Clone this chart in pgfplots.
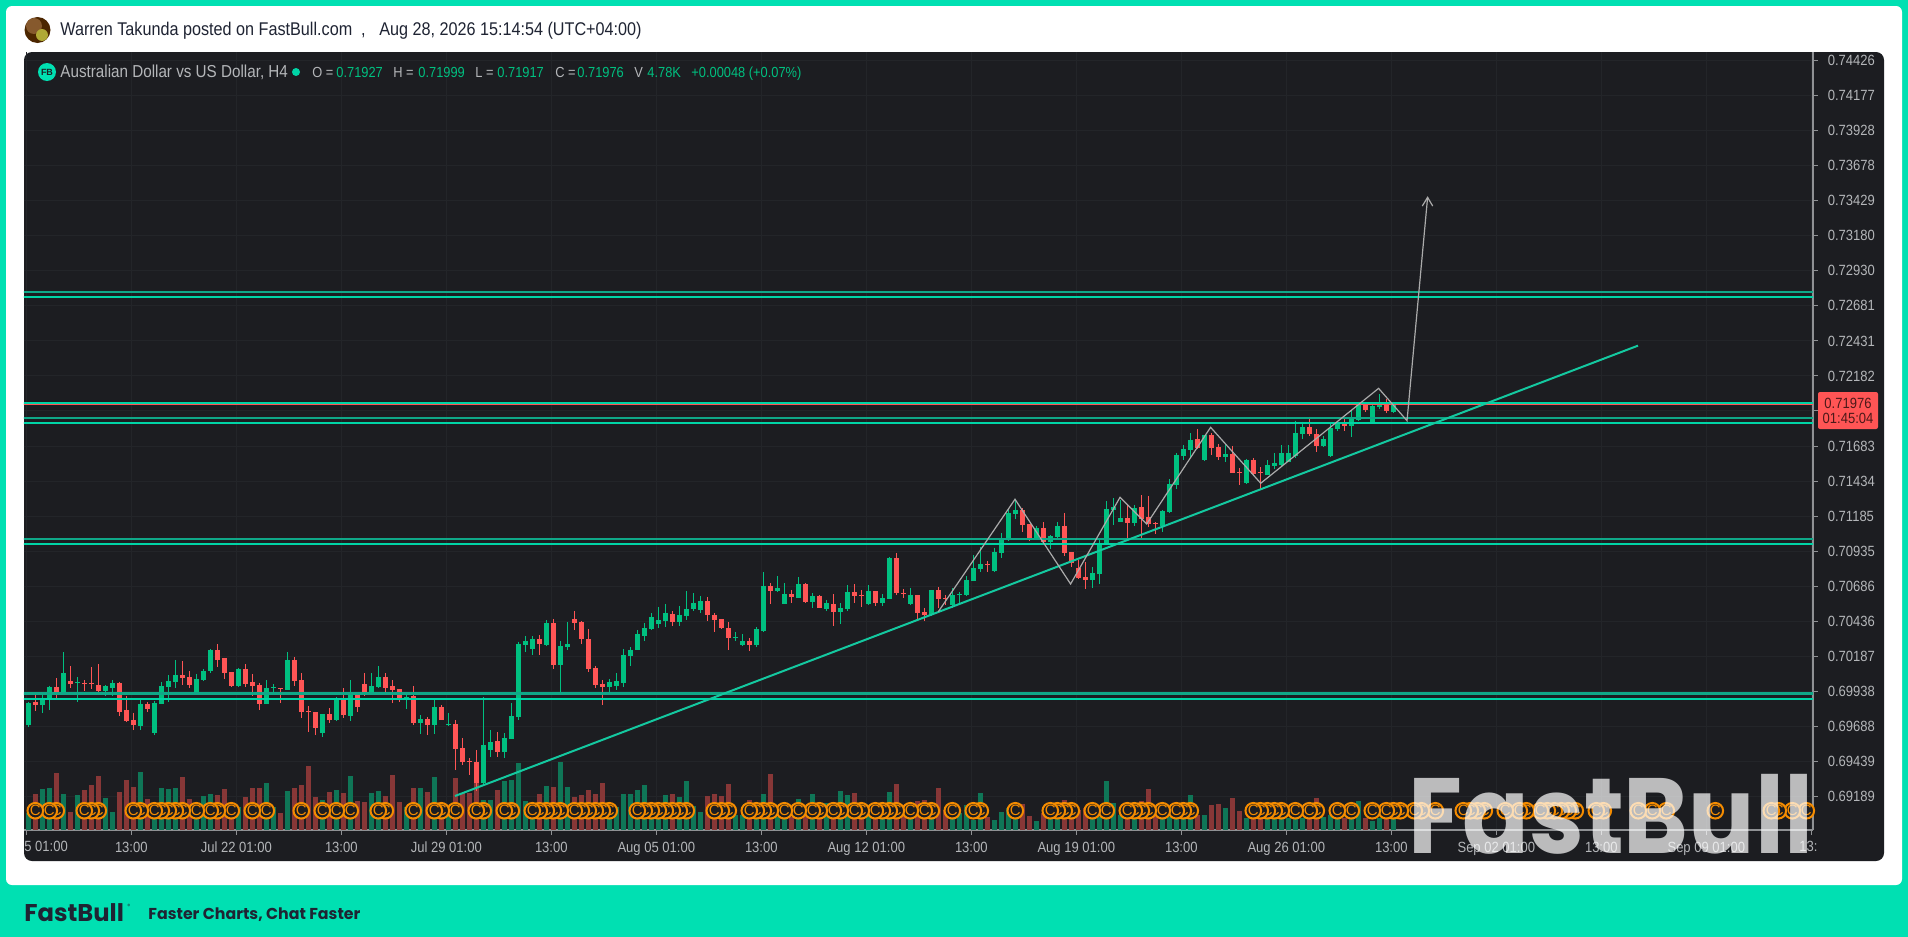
\documentclass[border=0pt]{standalone}
\usepackage{pgfplots}
\usepackage{pgfplotstable}
\usepackage{fontspec}
\pgfplotsset{compat=1.18}
\setmainfont{Liberation Sans}
\newfontfamily\nf[FakeStretch=0.88]{Liberation Sans}
\newfontfamily\pop{Poppins}
\newfontfamily\popw[FakeStretch=0.92]{Poppins}
\definecolor{teal0}{HTML}{00E0B2}
\definecolor{panel}{HTML}{1C1D21}
\definecolor{gridc}{HTML}{232529}
\definecolor{axc}{HTML}{8F9194}
\definecolor{lab}{HTML}{B4B6B9}
\definecolor{cg}{HTML}{00C080}
\definecolor{cr}{HTML}{FF5555}
\definecolor{vg}{HTML}{0F7657}
\definecolor{vr}{HTML}{873737}
\definecolor{iconor}{HTML}{F58C00}
\definecolor{lnA}{HTML}{0FA888}
\definecolor{lnB}{HTML}{00D4A6}
\definecolor{trend}{HTML}{14C9A0}
\definecolor{zig}{HTML}{ABABAB}
\definecolor{ink}{HTML}{1F2433}
\pgfdeclareplotmark{cicon}{%
  \pgfpathcircle{\pgfpointorigin}{3.9pt}\pgfusepathqfillstroke
  \pgftext{\color{iconor}\fontsize{7.5}{8}\selectfont C}}
\pgfplotstableread{
i hi lo top bot
0 0.69865 0.69687 0.69853 0.69699
2 0.69913 0.69782 0.69884 0.69842
3 0.69979 0.69806 0.69970 0.69884
5 0.70216 0.69934 0.70069 0.69934
7 0.70038 0.69863 0.70005 0.69998
11 0.69984 0.69908 0.69977 0.69941
12 0.70017 0.69906 0.69998 0.69962
16 0.69877 0.69664 0.69849 0.69692
18 0.69870 0.69628 0.69856 0.69642
19 0.70003 0.69849 0.69977 0.69849
20 0.70053 0.69863 0.70012 0.69970
21 0.70159 0.69962 0.70055 0.70005
24 0.70062 0.69920 0.70027 0.69920
25 0.70098 0.70012 0.70083 0.70019
26 0.70238 0.70069 0.70233 0.70083
30 0.70102 0.69970 0.70098 0.69977
34 0.70017 0.69849 0.69962 0.69849
35 0.69989 0.69927 0.69970 0.69962
37 0.70216 0.69948 0.70162 0.69948
42 0.69778 0.69614 0.69778 0.69642
44 0.69898 0.69728 0.69884 0.69735
46 0.70019 0.69728 0.69913 0.69763
49 0.70069 0.69927 0.69977 0.69934
50 0.70117 0.69962 0.70041 0.69970
54 0.69913 0.69813 0.69898 0.69884
56 0.69770 0.69635 0.69742 0.69713
58 0.69877 0.69635 0.69827 0.69699
60 0.69785 0.69692 0.69706 0.69697
65 0.69898 0.69272 0.69557 0.69287
66 0.69664 0.69472 0.69578 0.69521
68 0.69640 0.69464 0.69607 0.69507
69 0.69853 0.69600 0.69763 0.69600
70 0.70292 0.69735 0.70276 0.69756
71 0.70332 0.70219 0.70297 0.70268
72 0.70332 0.70197 0.70311 0.70240
74 0.70446 0.70261 0.70425 0.70268
76 0.70297 0.69927 0.70261 0.70126
77 0.70432 0.70233 0.70276 0.70254
83 0.70027 0.69927 0.70005 0.69970
84 0.70069 0.69948 0.70012 0.69977
85 0.70240 0.69970 0.70197 0.69998
86 0.70254 0.70119 0.70233 0.70190
87 0.70375 0.70233 0.70347 0.70233
88 0.70425 0.70297 0.70389 0.70332
89 0.70494 0.70375 0.70468 0.70382
90 0.70539 0.70389 0.70446 0.70418
91 0.70560 0.70396 0.70496 0.70439
93 0.70546 0.70404 0.70482 0.70432
94 0.70653 0.70446 0.70525 0.70475
95 0.70638 0.70510 0.70567 0.70525
96 0.70617 0.70496 0.70581 0.70517
101 0.70361 0.70297 0.70325 0.70318
102 0.70344 0.70261 0.70297 0.70268
104 0.70396 0.70254 0.70382 0.70268
105 0.70788 0.70361 0.70688 0.70368
107 0.70759 0.70645 0.70674 0.70653
108 0.70707 0.70560 0.70631 0.70560
110 0.70750 0.70603 0.70702 0.70603
112 0.70636 0.70532 0.70617 0.70574
114 0.70589 0.70510 0.70567 0.70525
116 0.70567 0.70418 0.70532 0.70503
117 0.70695 0.70510 0.70645 0.70525
120 0.70695 0.70553 0.70653 0.70560
122 0.70631 0.70546 0.70603 0.70567
123 0.70894 0.70596 0.70887 0.70596
126 0.70674 0.70553 0.70624 0.70560
129 0.70660 0.70475 0.70660 0.70482
132 0.70672 0.70529 0.70624 0.70553
133 0.70643 0.70553 0.70631 0.70624
134 0.70759 0.70617 0.70731 0.70624
135 0.70909 0.70724 0.70816 0.70724
136 0.70966 0.70788 0.70845 0.70809
138 0.70961 0.70788 0.70930 0.70795
139 0.71063 0.70887 0.71023 0.70923
140 0.71241 0.71008 0.71208 0.71016
141 0.71305 0.71165 0.71229 0.71201
144 0.71115 0.71016 0.71101 0.71023
146 0.71051 0.70952 0.71044 0.71001
147 0.71144 0.71030 0.71115 0.71037
152 0.70823 0.70674 0.70781 0.70731
153 0.71016 0.70703 0.70987 0.70774
154 0.71293 0.70987 0.71236 0.70987
155 0.71314 0.71122 0.71250 0.71229
156 0.71300 0.71144 0.71172 0.71144
158 0.71265 0.71115 0.71243 0.71136
162 0.71229 0.71072 0.71222 0.71115
163 0.71447 0.71208 0.71414 0.71215
164 0.71632 0.71378 0.71620 0.71407
165 0.71691 0.71585 0.71663 0.71613
166 0.71774 0.71597 0.71727 0.71656
168 0.71763 0.71578 0.71763 0.71585
171 0.71691 0.71570 0.71627 0.71606
174 0.71592 0.71414 0.71585 0.71421
177 0.71585 0.71478 0.71549 0.71478
178 0.71632 0.71521 0.71563 0.71542
179 0.71691 0.71542 0.71635 0.71549
180 0.71691 0.71570 0.71635 0.71570
181 0.71865 0.71599 0.71777 0.71613
182 0.71857 0.71734 0.71819 0.71770
185 0.71755 0.71675 0.71734 0.71684
186 0.71838 0.71606 0.71812 0.71613
187 0.71857 0.71791 0.71850 0.71805
189 0.71931 0.71748 0.71876 0.71827
190 0.71988 0.71862 0.71976 0.71869
192 0.71985 0.71850 0.71969 0.71850
193 0.72054 0.71948 0.71983 0.71962
195 0.71999 0.71917 0.71976 0.71927
}\tblG
\pgfplotstableread{
i hi lo top bot
1 0.69929 0.69801 0.69863 0.69842
4 0.70031 0.69889 0.69970 0.69934
6 0.70119 0.69962 0.70012 0.69991
8 0.70019 0.69943 0.69998 0.69991
9 0.70110 0.69955 0.69998 0.69991
10 0.70133 0.69927 0.69984 0.69941
13 0.70005 0.69763 0.69998 0.69792
14 0.69908 0.69721 0.69806 0.69728
15 0.69787 0.69664 0.69735 0.69699
17 0.69863 0.69792 0.69849 0.69813
22 0.70152 0.69984 0.70055 0.70034
23 0.70081 0.69962 0.70041 0.69984
27 0.70273 0.70112 0.70233 0.70162
28 0.70176 0.70027 0.70176 0.70069
29 0.70076 0.69970 0.70076 0.69977
31 0.70133 0.69970 0.70098 0.69991
32 0.70062 0.69906 0.70005 0.69977
33 0.69998 0.69806 0.69984 0.69849
36 0.69962 0.69856 0.69962 0.69955
38 0.70183 0.69977 0.70162 0.70012
39 0.70067 0.69749 0.70019 0.69792
40 0.69834 0.69649 0.69799 0.69792
41 0.69792 0.69628 0.69792 0.69678
43 0.69820 0.69713 0.69778 0.69735
45 0.69962 0.69749 0.69891 0.69770
47 0.69913 0.69792 0.69913 0.69827
48 0.70069 0.69906 0.69991 0.69934
51 0.70069 0.69934 0.70041 0.69962
52 0.70019 0.69856 0.69977 0.69948
53 0.69955 0.69863 0.69955 0.69891
55 0.69977 0.69699 0.69906 0.69713
57 0.69756 0.69628 0.69742 0.69699
59 0.69842 0.69735 0.69827 0.69735
61 0.69735 0.69379 0.69706 0.69528
62 0.69607 0.69415 0.69536 0.69436
63 0.69464 0.69344 0.69441 0.69434
64 0.69521 0.69230 0.69436 0.69287
67 0.69649 0.69472 0.69585 0.69507
73 0.70340 0.70197 0.70311 0.70276
75 0.70453 0.70098 0.70425 0.70126
78 0.70510 0.70375 0.70453 0.70425
79 0.70439 0.70276 0.70432 0.70311
80 0.70380 0.70076 0.70311 0.70098
81 0.70119 0.69962 0.70105 0.69984
82 0.70019 0.69842 0.69991 0.69970
92 0.70510 0.70404 0.70489 0.70432
97 0.70610 0.70439 0.70581 0.70482
98 0.70496 0.70361 0.70482 0.70446
99 0.70453 0.70382 0.70453 0.70389
100 0.70432 0.70233 0.70389 0.70318
103 0.70318 0.70226 0.70297 0.70268
106 0.70709 0.70560 0.70688 0.70653
109 0.70660 0.70567 0.70631 0.70610
111 0.70709 0.70567 0.70702 0.70574
113 0.70624 0.70532 0.70617 0.70532
115 0.70631 0.70404 0.70560 0.70503
118 0.70702 0.70567 0.70645 0.70617
119 0.70660 0.70539 0.70624 0.70617
121 0.70653 0.70546 0.70653 0.70567
124 0.70923 0.70624 0.70887 0.70638
125 0.70664 0.70603 0.70638 0.70631
127 0.70624 0.70453 0.70624 0.70496
128 0.70532 0.70439 0.70503 0.70482
130 0.70681 0.70532 0.70660 0.70596
131 0.70624 0.70553 0.70603 0.70596
137 0.70866 0.70788 0.70845 0.70838
142 0.71241 0.71072 0.71229 0.71122
143 0.71129 0.71008 0.71129 0.71030
145 0.71141 0.71001 0.71101 0.71001
148 0.71205 0.70902 0.71115 0.70923
149 0.70930 0.70826 0.70930 0.70852
150 0.70873 0.70738 0.70816 0.70745
151 0.70859 0.70667 0.70752 0.70731
157 0.71265 0.71023 0.71172 0.71136
159 0.71333 0.71030 0.71250 0.71165
160 0.71326 0.71108 0.71179 0.71129
161 0.71144 0.71058 0.71136 0.71129
167 0.71803 0.71663 0.71734 0.71670
169 0.71774 0.71620 0.71763 0.71670
170 0.71699 0.71585 0.71677 0.71606
172 0.71684 0.71492 0.71627 0.71492
173 0.71528 0.71407 0.71499 0.71492
175 0.71599 0.71478 0.71585 0.71485
176 0.71533 0.71378 0.71499 0.71492
183 0.71893 0.71755 0.71819 0.71770
184 0.71805 0.71642 0.71770 0.71684
188 0.71876 0.71791 0.71855 0.71827
191 0.71976 0.71926 0.71976 0.71940
194 0.72019 0.71919 0.71990 0.71933
}\tblR
\pgfplotstableread{
i v
0 6.7
2 16.4
3 16.8
5 14.4
7 14.0
11 12.8
12 7.2
16 23.2
18 5.3
19 16.8
20 16.4
21 16.8
24 10.7
25 13.6
26 14.4
30 9.3
34 18.8
35 9.3
37 15.6
42 12.0
44 16.0
46 21.6
49 14.8
50 15.6
54 9.3
56 16.8
58 21.2
60 8.0
65 12.0
66 12.0
68 19.6
69 20.0
70 26.8
71 11.6
72 8.0
74 17.6
76 27.2
77 17.2
83 10.7
84 9.3
85 14.4
86 14.4
87 16.0
88 18.0
89 9.3
90 9.3
91 14.0
93 13.2
94 19.6
95 9.6
96 7.2
101 6.0
102 6.0
104 10.0
105 14.4
107 5.3
108 10.0
110 12.4
112 14.4
114 10.7
116 15.6
117 14.0
120 10.0
122 10.0
123 15.2
126 10.0
129 10.7
132 10.7
133 6.7
134 10.0
135 4.0
136 14.8
138 4.0
139 7.2
140 8.7
141 6.0
144 3.6
146 8.0
147 8.0
152 5.3
153 5.3
154 19.6
155 10.8
156 6.0
158 5.3
162 5.3
163 5.3
164 5.3
165 5.3
166 14.0
168 6.0
171 8.8
174 4.8
177 4.7
178 4.7
179 4.7
180 4.7
181 4.7
182 4.7
185 5.3
186 6.0
187 4.3
189 4.3
190 11.6
192 3.6
193 4.8
195 4.78
}\volG
\pgfplotstableread{
i v
1 14.4
4 22.8
6 7.2
8 16.0
9 18.0
10 21.6
13 15.2
14 20.0
15 17.2
17 12.4
22 21.2
23 12.4
27 14.0
28 16.4
29 9.3
31 13.2
32 16.8
33 16.8
36 6.8
38 16.8
39 18.0
40 25.6
41 13.2
43 15.2
45 14.8
47 11.6
48 11.2
51 13.6
52 22.0
53 11.2
55 16.8
57 15.2
59 9.3
61 20.8
62 14.7
63 14.7
64 20.7
67 16.0
73 14.4
75 17.2
78 13.2
79 14.0
80 16.0
81 14.4
82 18.8
92 14.4
97 13.6
98 14.4
99 13.6
100 18.4
103 12.0
106 22.4
109 5.3
111 8.0
113 10.7
115 11.3
118 14.8
119 9.3
121 10.0
124 18.4
125 10.0
127 11.6
128 12.0
130 16.8
131 8.0
137 5.1
142 10.4
143 5.6
145 6.7
148 12.0
149 10.7
150 8.0
151 8.7
157 5.3
159 11.6
160 16.4
161 6.7
167 6.0
169 10.0
170 10.4
172 12.8
173 7.6
175 4.7
176 4.7
183 4.7
184 12.8
188 4.7
191 4.8
194 4.7
}\volR
\pgfplotsset{
  base/.style={at={(12pt,-26pt)},anchor=north west,scale only axis,
    width=894.5pt,height=389pt,xmin=-0.614,xmax=254.957},
  wick/.style={draw=none,no markers,forget plot,
    error bars/.cd,y dir=minus,y explicit,error mark=none,
    error bar style={draw=#1,line width=0.5pt}},
  body/.style={draw=none,no markers,forget plot,
    error bars/.cd,y dir=minus,y explicit,error mark=none,
    error bar style={draw=#1,line width=2.5pt}},
}
\begin{document}
\begin{tikzpicture}
\begin{scope}[x=0.5pt,y=-0.5pt]
\useasboundingbox (0,0) rectangle (1908,937);
\fill[teal0] (0,0) rectangle (1908,937);
\fill[white,rounded corners=3pt] (6,6) rectangle (1902,885);
\fill[panel,rounded corners=4pt] (24,52) rectangle (1884,861);
\fill[black!70!orange] (37.5,30) circle (13);
\fill[brown!70!black] (34,26) circle (8);
\fill[olive!70!white] (42,35) circle (6);
\node[anchor=base west,inner sep=0,text=ink] at (60,35) {\nf\fontsize{9.2}{10}\selectfont Warren Takunda posted on FastBull.com\ \ ,\ \ \ Aug 28, 2026 15:14:54 (UTC+04:00)};
\end{scope}
% grid, ticks and tick labels
\begin{axis}[base,ymin=0.68952,ymax=0.74487,
  axis y line*=right,axis x line*=bottom,
  axis line style={draw=axc,line width=0.6pt,-},
  tick align=outside,major tick length=2.5pt,tick style={draw=axc,line width=0.5pt},
  grid=major,grid style={gridc,line width=0.5pt},
  scaled y ticks=false,
  ytick={0.74426,0.74177,0.73928,0.73678,0.73429,0.73180,0.72930,0.72681,0.72431,0.72182,0.71933,0.71683,0.71434,0.71185,0.70935,0.70686,0.70436,0.70187,0.69938,0.69688,0.69439,0.69189},
  yticklabels={0.74426,0.74177,0.73928,0.73678,0.73429,0.73180,0.72930,0.72681,0.72431,0.72182,,0.71683,0.71434,0.71185,0.70935,0.70686,0.70436,0.70187,0.69938,0.69688,0.69439,0.69189},
  xtick={-0.286,14.714,29.714,44.714,59.714,74.714,89.714,104.714,119.714,134.714,149.714,164.714,179.714,194.714,209.714,224.714,239.714,254.714},
  xticklabels={,13:00,Jul 22 01:00,13:00,Jul 29 01:00,13:00,Aug 05 01:00,13:00,Aug 12 01:00,13:00,Aug 19 01:00,13:00,Aug 26 01:00,13:00,Sep 02 01:00,13:00,Sep 09 01:00,},
  tick label style={font=\nf\fontsize{7.4}{8}\selectfont,text=lab},
  yticklabel style={xshift=1.4pt},
  xticklabel style={yshift=0pt},
]
\addplot[draw=none,forget plot] coordinates {(0,0.70)(1,0.71)};
\end{axis}
% volume
\begin{axis}[base,hide axis,ymin=0,ymax=311.2]
\addplot[ycomb,draw=vg,line width=2.5pt,forget plot] table[x=i,y=v]{\volG};
\addplot[ycomb,draw=vr,line width=2.5pt,forget plot] table[x=i,y=v]{\volR};
\end{axis}
% price
\begin{axis}[base,hide axis,ymin=0.68952,ymax=0.74487]
\addplot[only marks,mark=cicon,mark options={draw=iconor,fill=panel,line width=1pt},forget plot] coordinates {
(255,0.69089)(254,0.69089)(252,0.69089)(250,0.69089)(249,0.69089)(241,0.69089)(234,0.69089)(232,0.69089)(230,0.69089)(225,0.69089)(224,0.69089)(221,0.69089)(220,0.69089)(219,0.69089)(218,0.69089)(217,0.69089)(216,0.69089)(214,0.69089)(213,0.69089)(211,0.69089)(208,0.69089)(207,0.69089)(206,0.69089)(205,0.69089)(201,0.69089)(199,0.69089)(198,0.69089)(196,0.69089)(195,0.69089)(194,0.69089)(192,0.69089)(189,0.69089)(187,0.69089)(184,0.69089)(183,0.69089)(181,0.69089)(179,0.69089)(178,0.69089)(177,0.69089)(176,0.69089)(175,0.69089)(166,0.69089)(165,0.69089)(164,0.69089)(162,0.69089)(160,0.69089)(159,0.69089)(158,0.69089)(157,0.69089)(154,0.69089)(152,0.69089)(149,0.69089)(148,0.69089)(147,0.69089)(146,0.69089)(141,0.69089)(136,0.69089)(135,0.69089)(132,0.69089)(129,0.69089)(128,0.69089)(126,0.69089)(124,0.69089)(123,0.69089)(122,0.69089)(121,0.69089)(119,0.69089)(118,0.69089)(116,0.69089)(115,0.69089)(113,0.69089)(112,0.69089)(110,0.69089)(108,0.69089)(106,0.69089)(105,0.69089)(104,0.69089)(103,0.69089)(100,0.69089)(99,0.69089)(98,0.69089)(94,0.69089)(93,0.69089)(92,0.69089)(91,0.69089)(90,0.69089)(89,0.69089)(88,0.69089)(87,0.69089)(83,0.69089)(82,0.69089)(81,0.69089)(80,0.69089)(79,0.69089)(78,0.69089)(76,0.69089)(75,0.69089)(74,0.69089)(73,0.69089)(72,0.69089)(69,0.69089)(68,0.69089)(65,0.69089)(64,0.69089)(61,0.69089)(59,0.69089)(58,0.69089)(55,0.69089)(51,0.69089)(50,0.69089)(46,0.69089)(44,0.69089)(42,0.69089)(39,0.69089)(34,0.69089)(32,0.69089)(29,0.69089)(27,0.69089)(26,0.69089)(24,0.69089)(22,0.69089)(21,0.69089)(20,0.69089)(19,0.69089)(18,0.69089)(16,0.69089)(15,0.69089)(10,0.69089)(9,0.69089)(8,0.69089)(4,0.69089)(3,0.69089)(1,0.69089)(-1,0.69089)};
\addplot[wick=cg] table[x=i,y=hi,y error minus expr=\thisrow{hi}-\thisrow{lo}]{\tblG};
\addplot[wick=cr] table[x=i,y=hi,y error minus expr=\thisrow{hi}-\thisrow{lo}]{\tblR};
\addplot[body=cg] table[x=i,y=top,y error minus expr=\thisrow{top}-\thisrow{bot}]{\tblG};
\addplot[body=cr] table[x=i,y=top,y error minus expr=\thisrow{top}-\thisrow{bot}]{\tblR};
% horizontal levels
\addplot[lnA,line width=1.1pt,forget plot] coordinates {(-1,0.72780)(256,0.72780)};
\addplot[lnB,line width=1.1pt,forget plot] coordinates {(-1,0.72744)(256,0.72744)};
\addplot[cr,line width=0.35pt,forget plot] coordinates {(-1,0.71982)(256,0.71982)};
\addplot[lnB,line width=0.8pt,forget plot] coordinates {(-1,0.71990)(256,0.71990)};
\addplot[lnA,line width=1.1pt,forget plot] coordinates {(-1,0.71883)(256,0.71883)};
\addplot[lnB,line width=1.1pt,forget plot] coordinates {(-1,0.71848)(256,0.71848)};
\addplot[lnA,line width=1.1pt,forget plot] coordinates {(-1,0.71022)(256,0.71022)};
\addplot[lnB,line width=1.1pt,forget plot] coordinates {(-1,0.70987)(256,0.70987)};
\addplot[lnA,line width=1.1pt,forget plot] coordinates {(-1,0.69923)(256,0.69923)};
\addplot[lnB,line width=1.1pt,forget plot] coordinates {(-1,0.69884)(256,0.69884)};
% trend line
\addplot[trend,line width=1pt,forget plot] coordinates {(60.96,0.69194)(229.96,0.72398)};
% projected path
\addplot[zig,line width=0.6pt,forget plot] coordinates {(130,0.70505)(140.96,0.71305)(148.9,0.70702)(155.96,0.71319)(159.77,0.71129)(168.9,0.71817)(176.06,0.71419)(192.9,0.72094)(196.96,0.71864)(199.9,0.73453)};
\addplot[zig,line width=0.6pt,forget plot] coordinates {(199.14,0.73391)(199.9,0.73453)(200.63,0.73391)};
\end{axis}
\begin{scope}[x=0.5pt,y=-0.5pt]
% clipped outer tick labels
\node[anchor=base west,inner sep=0,text=lab] at (24,851) {\nf\fontsize{7.4}{8}\selectfont 5 01:00};
\node[anchor=base west,inner sep=0,text=lab] at (1799,851) {\nf\fontsize{7.4}{8}\selectfont 13:};
% legend line
\fill[teal0] (47,72) circle (9);
\node[text=panel,inner sep=0] at (47,72) {\bfseries\fontsize{4.5}{5}\selectfont FB};
\begin{scope}[every node/.style={anchor=base west,inner sep=0}]
\def\lf{\nf\fontsize{7.3}{8}\selectfont}
\node[text=lab] at (60,77) {\nf\fontsize{8.65}{9}\selectfont Australian Dollar vs US Dollar, H4};
\fill[lnB] (296,72) circle (4);
\node[text=lab] at (312,77) {\lf O =};
\node[text=cg] at (336,77) {\lf 0.71927};
\node[text=lab] at (393,77) {\lf H =};
\node[text=cg] at (418,77) {\lf 0.71999};
\node[text=lab] at (475,77) {\lf L =};
\node[text=cg] at (497,77) {\lf 0.71917};
\node[text=lab] at (555,77) {\lf C =};
\node[text=cg] at (577,77) {\lf 0.71976};
\node[text=lab] at (634,77) {\lf V};
\node[text=cg] at (647,77) {\lf 4.78K};
\node[text=cg] at (691,77) {\lf +0.00048 (+0.07\%)};
\end{scope}
% last price label
\fill[cr,rounded corners=1pt] (1818,392) rectangle (1878,429);
\node[anchor=center,inner sep=0,text=black!70!cr] at (1848,403) {\nf\fontsize{7.4}{8}\selectfont 0.71976};
\node[anchor=center,inner sep=0,text=black!70!cr] at (1848,418) {\nf\fontsize{7.4}{8}\selectfont 01:45:04};
% watermark
\node[anchor=base west,inner sep=0,text=white,text opacity=0.7] at (1408,853) {\popw\bfseries\fontsize{53.5}{54}\selectfont FastBull};
% footer
\node[anchor=base west,inner sep=0,text=ink] at (24,921) {\pop\bfseries\fontsize{12.1}{13}\selectfont FastBull};
\node[anchor=base west,inner sep=0,text=ink] at (127,908) {\pop\fontsize{3}{4}\selectfont\textregistered};
\node[anchor=base west,inner sep=0,text=ink] at (148,919) {\pop\bfseries\fontsize{7.9}{8}\selectfont Faster Charts, Chat Faster};
\end{scope}
\end{tikzpicture}
\end{document}
